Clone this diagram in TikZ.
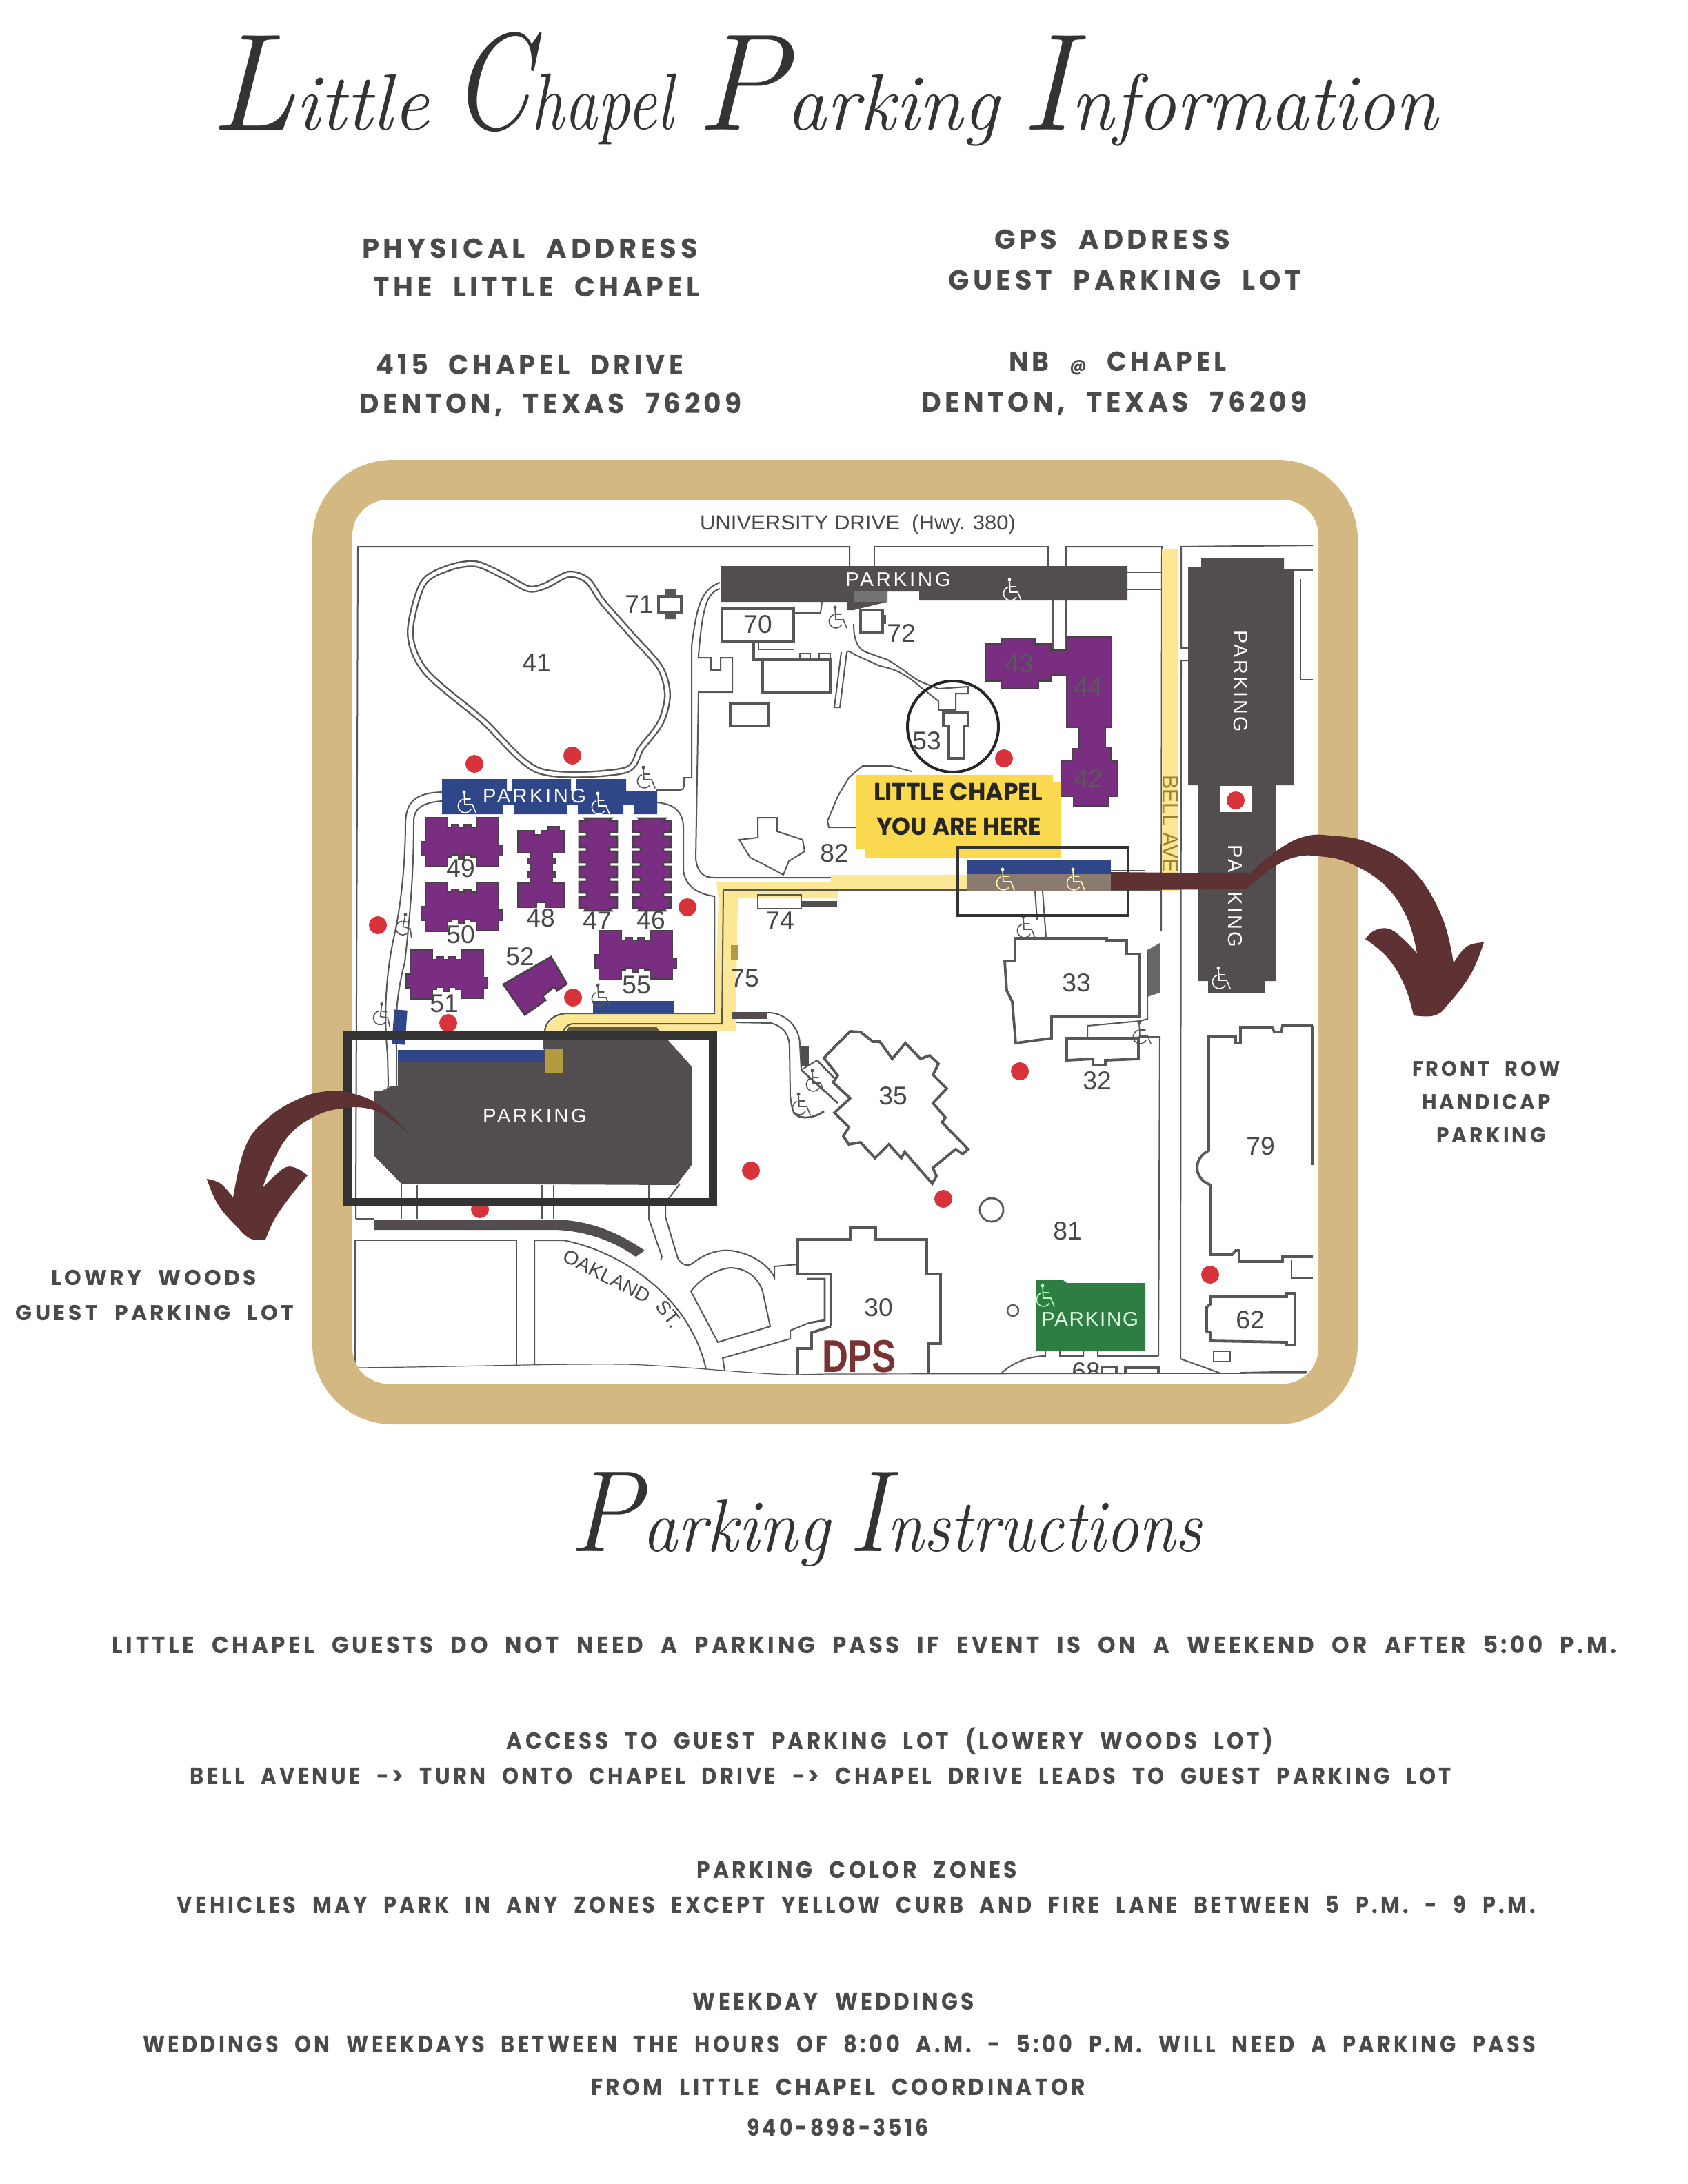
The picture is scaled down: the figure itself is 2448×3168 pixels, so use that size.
\documentclass[tikz,border=0pt]{standalone}
\usepackage{fontspec}
\usepackage{graphicx}
\setsansfont{Liberation Sans}
\newfontfamily\lab{Poppins}[LetterSpace=14,WordSpace=2.2]
\newfontfamily\labb{Poppins}[LetterSpace=0]
\newdimen\pxu \pxu=0.25pt
\definecolor{goldf}{HTML}{D3B981}
\definecolor{brownar}{HTML}{5E3232}
\definecolor{txtc}{HTML}{4A4A48}
\definecolor{titlec}{HTML}{333333}
\definecolor{parkd}{HTML}{524E50}
\definecolor{lined}{HTML}{575757}
\definecolor{bluep}{HTML}{2F4688}
\definecolor{purpf}{HTML}{7A2E82}
\definecolor{purpd}{HTML}{4A4048}
\definecolor{redd}{HTML}{D8323A}
\definecolor{yelpale}{HTML}{FCE794}
\definecolor{yelbox}{HTML}{FBD94E}
\definecolor{olive}{HTML}{B39B3F}
\definecolor{greenp}{HTML}{2E7D42}
\definecolor{taupe}{HTML}{8A7A70}
\tikzset{
 rd/.style={draw=lined,line width=.5pt},
 bl/.style={draw=lined,line width=.95pt,line join=miter},
 purp/.style={fill=purpf,draw=purpd,line width=.7pt},
 pk/.style={fill=parkd},
 bluef/.style={fill=bluep},
 dot/.style={fill=redd},
 numl/.style={font=\sffamily\fontsize{9.3}{9.3}\selectfont,text=black!72,inner sep=0pt},
 wlab/.style={font=\sffamily\fontsize{7.2}{7.2}\selectfont,text=white,inner sep=0pt,anchor=base},
 oakl/.style={font=\sffamily\fontsize{7}{7}\selectfont,text=black!72,inner sep=0pt,anchor=base},
 addr/.style={font=\lab\bfseries\fontsize{10}{10}\selectfont,text=txtc,inner sep=0pt,anchor=base},
 side/.style={font=\lab\bfseries\fontsize{7.8}{7.8}\selectfont,text=txtc,inner sep=0pt,anchor=base},
 instr/.style={font=\lab\bfseries\fontsize{8.6}{8.6}\selectfont,text=txtc,inner sep=0pt,anchor=base},
 ttl/.style={font=\itshape,text=titlec,inner sep=0pt,anchor=base},
 frameb/.style={draw=black!80,line join=miter}
}
% name is given explicitly; left, right and baseline are in pixels
\newcommand\fitn[6]{\node[#1] (#2) at ({(#3+#4)/2},#5) {\resizebox{\dimexpr #4\pxu-#3\pxu\relax}{\height}{#6}};}
\newcommand\nm[3]{\node[numl] (b#3) at (#1,#2) {#3};}
\newcommand\reddot[2]{\fill[dot] (#1,#2) circle [radius=13];}
\newcommand\bigc[1]{{\fontsize{50}{50}\selectfont #1}}
\newcommand\smt[1]{{\fontsize{29}{29}\selectfont #1}}
\newcommand\bigd[1]{{\fontsize{42}{42}\selectfont #1}}
\newcommand\smd[1]{{\fontsize{27}{27}\selectfont #1}}
\newcommand\hcap[4][0]{\begin{scope}[shift={(#2,#3)},rotate=#1]
 \draw[#4,line width=.4pt,line cap=round] (-4,-15) -- (-3,3) -- (8,3) -- (13,15) (-4,-5) -- (5,-5);
 \fill[#4] (-4,-15) circle [radius=2.5];
 \draw[#4,line width=.4pt] (6,10) arc [start angle=30,end angle=250,radius=10];
 \end{scope}}
\newcommand\hbldg[2]{\draw[purp,shift={(#1,#2)}] (6,0)--(38,0)--(38,14)--(44,14)--(44,10)--(54,10)--(54,14)--(62,14)--(62,10)--(72,10)--(72,14)--(80,14)--(80,0)--(112,0)--(112,40)--(118,40)--(118,55)--(112,55)--(112,70)--(80,70)--(80,57)--(72,57)--(72,54)--(62,54)--(62,60)--(54,60)--(54,54)--(44,54)--(44,57)--(38,57)--(38,71)--(6,71)--(6,55)--(0,55)--(0,35)--(6,35)--cycle;}
\newcommand\combb[2]{\draw[purp,shift={(#1,#2)}] (8,0) -- (47,0) \foreach \k in {0,...,5} {-- (44,{4+22*\k}) -- (55,{4+22*\k}) -- (55,{20+22*\k}) -- (44,{20+22*\k})} -- (47,134) -- (8,134) \foreach \k in {5,...,0} {-- (11,{20+22*\k}) -- (0,{20+22*\k}) -- (0,{4+22*\k}) -- (11,{4+22*\k})} -- cycle;}
\begin{document}
\begin{tikzpicture}[x=0.25pt,y=-0.25pt]
\useasboundingbox (0,0) rectangle (2448,3168);
\fill[white] (0,0) rectangle (2448,3168);
% frame
\fill[goldf,rounded corners=29pt] (453,667) rectangle (1969,2066);
\fill[white,rounded corners=13pt] (511,725) rectangle (1912,2007);
\begin{scope}
\clip[rounded corners=13pt] (511,725) rectangle (1912,2007);
\draw[rd,line width=.6pt] (555,725) -- (1890,725);
% outer grid lines
\draw[rd] (516,1768) -- (519,793) -- (1232,793) -- (1232,821);
\draw[rd] (1268,821) -- (1268,793) -- (1520,793) -- (1520,821);
\draw[rd] (1546,821) -- (1546,793) -- (1685,793) -- (1684,1350);
\draw[rd] (1682,1504) -- (1680,1967);
\draw[rd] (1634,830) -- (1685,830) (1634,855) -- (1685,855);
\draw[rd] (1723,940) -- (1713,940) -- (1713,793) -- (1904,791);
\draw[rd] (1723,958) -- (1713,958) -- (1712,1971) -- (1776,1994);
\draw[rd] (1876,827) -- (1904,827) (1886,840) -- (1886,986) -- (1904,986);
\draw[rd] (1527,871) -- (1527,943) (1546,871) -- (1546,943);
% lake
\draw[draw=lined,line width=.6pt,double=white,double distance=1.3pt] plot[smooth cycle,tension=.5] coordinates {(690,818) (730,835) (766,854) (790,850) (825,833) (852,842) (873,872) (915,920) (957,968) (968,1008) (958,1048) (930,1085) (904,1118) (782,1118) (700,1045) (618,975) (595,919) (613,847) (650,824)};
% roads north-west
\draw[rd] (1044,845) .. controls (1015,855) and (1010,885) .. (1003,937) -- (1003,1128) -- (992,1128) -- (992,1140) .. controls (990,1146) .. (980,1146) -- (952,1146);
\draw[rd] (1044,854) .. controls (1025,860) and (1019,880) .. (1013,950) -- (1013,954) -- (1031,954) -- (1031,972) -- (1045,972) -- (1045,954) -- (1062,954) -- (1062,1004) -- (1013,1004) -- (1009,1245) .. controls (1011,1265) and (1020,1273) .. (1035,1273) -- (1403,1273);
\draw[rd] (952,1164) .. controls (980,1166) and (991,1180) .. (991,1200) -- (991,1262) .. controls (993,1280) and (1005,1296) .. (1036,1300) -- (1036,1470) -- (825,1470) .. controls (805,1470) and (792,1480) .. (790,1495) -- (788,1522);
\draw[rd] (1049,1291) -- (1403,1291) (1049,1291) -- (1047,1485) -- (830,1485) .. controls (820,1487) and (815,1495) .. (813,1510);
\draw[rd] (1062,1483) -- (1118,1484) .. controls (1140,1490) and (1145,1505) .. (1145,1520) -- (1146,1589) .. controls (1148,1605) .. (1151,1614);
\draw[rd] (1062,1470) -- (1118,1469) .. controls (1145,1472) and (1160,1495) .. (1160,1515) -- (1162,1552) -- (1185,1538);
\draw[rd] (641,1149) .. controls (600,1150) and (590,1165) .. (588,1191) .. controls (588,1260) and (580,1320) .. (572,1356) .. controls (560,1410) and (556,1470) .. (562,1529) -- (563,1570) .. controls (563,1580) .. (555,1582);
\draw[rd] (641,1162) .. controls (610,1164) and (600,1175) .. (600,1191) .. controls (600,1240) and (598,1300) .. (587,1396) .. controls (578,1430) and (572,1470) .. (575,1520) -- (575,1575);
% route in yellow
\fill[yelpale] (1685,797) rectangle (1708,1292);
\fill[yelpale] (1205,1269) -- (1403,1269) -- (1403,1291) -- (1215,1291) -- (1215,1303) -- (1070,1303) -- (1067,1495) -- (817,1495) -- (817,1524) -- (792,1524) -- (792,1490) .. controls (800,1478) and (810,1470) .. (825,1470) -- (1037,1470) -- (1042,1303) -- (1039,1280) -- (1205,1280) -- cycle;
\draw[rd] (1049,1291) -- (1403,1291);
\draw[rd] (1036,1300) -- (1036,1470) -- (825,1470) .. controls (805,1470) and (792,1480) .. (790,1495);
\draw[rd] (1049,1291) -- (1047,1485) -- (830,1485) .. controls (820,1487) and (815,1495) .. (813,1510);
% 82, Texas
\draw[rd] (1241,1200) -- (1202,1200) -- (1200,1191) -- (1215,1155) -- (1231,1128) -- (1251,1111) -- (1292,1111) -- (1322,1119);
\draw[rd] (1099,1186) -- (1127,1186) -- (1127,1206) -- (1164,1218) -- (1167,1235) -- (1144,1249) -- (1136,1269) -- (1106,1253) -- (1088,1244) -- (1072,1218) -- (1099,1215) -- cycle;
% dark parking
\fill[pk] (1045,821) -- (1635,821) -- (1635,871) -- (1333,871) -- (1333,858) -- (1287,858) -- (1287,873) -- (1238,885) -- (1228,885) -- (1228,873) -- (1045,873) -- cycle;
\fill[black!55] (1238,858) rectangle (1287,873);
\fill[pk] (1742,810) -- (1862,810) -- (1862,826) -- (1876,826) -- (1876,1139) -- (1850,1139) -- (1850,1423) -- (1834,1423) -- (1834,1440) -- (1752,1440) -- (1752,1423) -- (1737,1423) -- (1737,1139) -- (1723,1139) -- (1723,823) -- (1742,823) -- cycle;
\fill[white] (1770,1140) rectangle (1816,1178);
\fill[pk] (582,1717) -- (543,1677) -- (543,1582) -- (560,1582) -- (566,1575) -- (577,1575) -- (577,1540) -- (789,1540) -- (789,1505) -- (817,1505) -- (825,1490) -- (952,1490) -- (968,1508) -- (1003,1547) -- (1003,1690) -- (981,1719) -- cycle;
\fill[olive!70!black!40!parkd] (825,1490) -- (952,1490) -- (962,1501) -- (817,1501) -- cycle;
\fill[olive] (791,1522) rectangle (816,1557);
\fill[bluep] (577,1523) rectangle (789,1540);
\fill[bluep] (860,1452) rectangle (977,1470);
\fill[bluep,rotate around={-4:(580,1490)}] (570,1465) rectangle (589,1515);
\fill[pk] (1062,1468) rectangle (1113,1478);
\fill[pk] (1162,1517) rectangle (1173,1547);
% band along Oakland
\fill[pk] (543,1769) -- (807,1769) .. controls (860,1771) and (900,1790) .. (935,1814) -- (922,1823) .. controls (890,1800) and (850,1786) .. (807,1784) -- (543,1784) -- cycle;
\draw[rd] (516,1768) -- (543,1768);
\draw[rd] (582,1717) -- (582,1768) (605,1719) -- (605,1768) (786,1719) -- (786,1768) (803,1719) -- (803,1768);
\draw[rd] (941,1719) -- (941,1768) -- (960,1823) -- (958,1828);
\draw[rd] (986,1717) -- (965,1745) -- (965,1765) -- (983,1825) .. controls (988,1835) and (998,1838) .. (1005,1832) .. controls (1020,1820) and (1040,1812) .. (1060,1814) .. controls (1090,1818) and (1115,1835) .. (1123,1853) -- (1123,1837) -- (1157,1834);
\draw[rd] (1002,1873) .. controls (1015,1855) and (1040,1840) .. (1060,1839) .. controls (1085,1840) and (1100,1855) .. (1106,1873) -- (1117,1924) -- (1041,1947) -- cycle;
\draw[rd] (1051,1988) -- (1048,1970) -- (1146,1942) -- (1146,1930) -- (1173,1919) -- (1195,1915);
\draw[rd] (515,1799) -- (749,1799) -- (749,1985) (515,1799) -- (515,1985);
\draw[rd] (775,1985) -- (775,1799) -- (817,1799) .. controls (900,1815) and (1000,1880) .. (1024,1986);
% green
\fill[greenp] (1503,1857) -- (1542,1857) -- (1547,1861) -- (1661,1861) -- (1661,1960) -- (1503,1960) -- cycle;
\draw[rd] (1452,1992) .. controls (1470,1975) and (1495,1967) .. (1516,1967) -- (1516,1960) (1537,1960) -- (1537,1967) -- (1571,1967) -- (1571,1960) (1592,1960) -- (1592,1967) -- (1680,1967);
% chapel-front parking
\fill[bluep] (1403,1247) rectangle (1611,1268);
\fill[taupe] (1403,1268) rectangle (1611,1292);
\draw[rd] (1501,1293) -- (1504,1334) (1512,1293) -- (1517,1360);
\draw[rd] (1611,1263) -- (1660,1263);
\draw[rd] (1611,1291) -- (1685,1291);
% blue lot
\fill[bluep] (641,1130) rectangle (735,1150) (743,1130) rectangle (828,1150) (836,1130) rectangle (908,1150) (908,1147) rectangle (953,1165);
\fill[bluep] (641,1148) rectangle (953,1168);
\fill[bluep] (641,1165) rectangle (729,1181) (746,1165) rectangle (822,1181) (838,1165) rectangle (904,1181) (919,1165) rectangle (953,1181);
% purple buildings
\hbldg{611}{1186}
\hbldg{611}{1280}
\hbldg{589}{1378}
\hbldg{863}{1350}
\draw[purp,shift={(751,1199)}] (0,6)--(24,6)--(24,12)--(34,12)--(34,6)--(44,6)--(44,0)--(60,0)--(60,6)--(67,6)--(67,38)--(50,38)--(50,46)--(54,46)--(54,54)--(50,54)--(50,66)--(54,66)--(54,74)--(50,74)--(50,82)--(67,82)--(67,117)--(40,117)--(40,110)--(27,110)--(27,117)--(0,117)--(0,82)--(18,82)--(18,74)--(14,74)--(14,66)--(18,66)--(18,54)--(14,54)--(14,46)--(18,46)--(18,38)--(0,38)--cycle;
\combb{840}{1187}
\combb{918}{1187}
\draw[purp] (799,1388)--(822,1427)--(808,1437)--(804,1431)--(787,1445)--(791,1451)--(761,1472)--(730,1428)--cycle;
\draw[purp] (1429,934)--(1452,934)--(1452,926)--(1501,926)--(1501,934)--(1524,934)--(1524,943)--(1547,943)--(1547,924)--(1612,924)--(1612,1055)--(1603,1055)--(1603,1084)--(1611,1084)--(1611,1103)--(1621,1103)--(1621,1155)--(1608,1155)--(1608,1169)--(1557,1169)--(1557,1155)--(1539,1155)--(1539,1103)--(1555,1103)--(1555,1086)--(1565,1086)--(1565,1055)--(1547,1055)--(1547,979)--(1524,979)--(1524,988)--(1506,988)--(1506,999)--(1452,999)--(1452,988)--(1429,988)--cycle;
% white buildings
\draw[bl] (955,865) rectangle (988,889);
\fill[lined] (964,855) rectangle (980,865) (964,889) rectangle (980,898);
\draw[bl] (1047,883) rectangle (1151,930);
\draw[bl] (1093,930) -- (1093,957) -- (1106,957) -- (1106,1004) -- (1204,1004) -- (1204,957) -- (1106,957);
\draw[rd] (1100,930) -- (1100,942) -- (1151,942);
\draw[bl,line width=.7pt] (1160,957) -- (1160,948) -- (1175,948) -- (1175,957) (1188,957) -- (1188,948) -- (1204,948) -- (1204,957);
\draw[bl] (1059,1021) rectangle (1115,1053);
\draw[rd] (1220,946) -- (1210,1026) -- (1218,1026) -- (1228,946);
\draw[rd] (1151,889) -- (1190,889) -- (1192,873);
\draw[bl] (1248,885) rectangle (1280,917);
\fill[lined] (1280,892) rectangle (1285,905);
\draw[rd] (1238,905) .. controls (1238,930) and (1245,942) .. (1256,946) -- (1287,957) .. controls (1310,970) and (1325,985) .. (1338,990) -- (1361,999) -- (1404,996) -- (1404,1006) -- (1386,1006) -- (1386,1030) -- (1361,1030) -- (1361,1017) -- (1333,995) .. controls (1310,975) and (1295,970) .. (1276,966) -- (1245,952) .. controls (1235,948) and (1230,942) .. (1228,946);
\draw[bl] (1368,1034) -- (1404,1034) -- (1404,1053) -- (1398,1053) -- (1398,1100) -- (1376,1100) -- (1376,1053) -- (1368,1053) -- cycle;
\draw[bl] (1472,1361)--(1605,1361)--(1605,1364)--(1634,1364)--(1634,1384)--(1653,1384)--(1653,1474)--(1525,1474)--(1525,1506)--(1473,1513)--(1468,1453)--(1460,1437)--(1457,1394)--(1472,1394)--cycle;
\fill[black!60] (1664,1378) -- (1682,1368) -- (1682,1440) -- (1664,1446) -- cycle;
\draw[rd] (1664,1378) -- (1664,1478) -- (1654,1481) -- (1577,1488) -- (1577,1504);
\draw[bl] (1547,1506)--(1651,1506)--(1651,1536)--(1603,1538)--(1603,1545)--(1585,1545)--(1585,1536)--(1547,1538)--cycle;
\draw[rd] (1651,1504) -- (1682,1504);
\draw[bl] (1200,1529)--(1233,1496)--(1248,1497)--(1266,1511)--(1276,1511)--(1294,1536)--(1313,1513)--(1335,1536)--(1348,1531)--(1361,1543)--(1353,1559)--(1373,1579)--(1353,1600)--(1371,1621)--(1366,1628)--(1404,1667)--(1396,1674)--(1386,1667)--(1353,1694)--(1358,1706)--(1352,1717)--(1312,1671)--(1307,1680)--(1289,1660)--(1269,1680)--(1248,1657)--(1231,1660)--(1223,1648)--(1231,1635)--(1210,1614)--(1233,1593)--(1208,1570)--(1215,1560)--(1195,1535)--cycle;
\draw[rd,line width=.7pt] (1162,1552) -- (1215,1600) (1151,1614) .. controls (1160,1625) and (1180,1622) .. (1195,1612) (1185,1538) -- (1210,1564);
\draw[bl] (1205,1924)--(1205,1848)--(1157,1848)--(1157,1798)--(1233,1798)--(1233,1781)--(1270,1781)--(1270,1798)--(1344,1798)--(1344,1848)--(1364,1848)--(1364,1949)--(1346,1949)--(1346,1995);
\draw[bl] (1205,1924)--(1177,1933)--(1177,1956)--(1157,1956)--(1157,1995);
\draw[rd,line width=.7pt] (1170,1855)--(1196,1855)--(1196,1915)--(1173,1919);
\draw[bl,line width=.7pt] (1438,1755) circle [radius=17];
\draw[bl,line width=.6pt] (1469,1901) circle [radius=8];
\draw[bl] (1904,1488)--(1860,1488)--(1858,1497)--(1848,1497)--(1845,1490)--(1799,1490)--(1799,1513)--(1792,1513)--(1792,1504)--(1753,1504)--(1753,1669) .. controls (1730,1680) and (1730,1710) .. (1756,1719) --(1756,1820)--(1787,1820)--(1792,1814)--(1797,1814)--(1797,1830)--(1860,1830)--(1860,1823)--(1904,1823);
\draw[bl] (1903,1488) -- (1903,1690);
\draw[bl,line width=.6pt] (1873,1827)--(1873,1854)--(1904,1854);
\draw[bl] (1755,1881)--(1866,1881)--(1866,1876)--(1878,1876)--(1878,1951)--(1866,1951)--(1866,1947)--(1755,1945)--(1755,1933)--(1750,1931)--(1750,1896)--(1755,1892)--cycle;
\draw[bl,line width=.6pt] (1760,1960) rectangle (1784,1975);
\draw[bl] (1632,1984) rectangle (1680,1998) (1598,1983) rectangle (1619,1998);
\draw[bl] (1798,1992) -- (1895,1990);
% red dots
\reddot{688}{1108} \reddot{830}{1096} \reddot{997}{1316} \reddot{548}{1342}
\reddot{1456}{1100} \reddot{831}{1447} \reddot{650}{1484} \reddot{696}{1754}
\reddot{1089}{1698} \reddot{1479}{1554} \reddot{1368}{1739} \reddot{1755}{1849}
\reddot{1792}{1161}
% yellow box
\fill[yelbox] (1241,1124) -- (1527,1124) -- (1527,1135) -- (1539,1135) -- (1539,1244) -- (1254,1244) -- (1254,1231) -- (1241,1231) -- cycle;
% wheelchair signs
\hcap{677}{1164}{white}
\hcap{871}{1166}{white}
\hcap{937}{1128}{lined}
\hcap{1468}{856}{white}
\hcap{1215}{896}{lined}
\hcap{1771}{1419}{white}
\hcap{1488}{1345}{lined}
\hcap{1458}{1276}{yellow!40!white}
\hcap{1560}{1276}{yellow!40!white}
\hcap{871}{1444}{lined}
\hcap[-15]{588}{1342}{lined}
\hcap[-10]{555}{1472}{lined}
\hcap{1182}{1568}{lined}
\hcap{1162}{1602}{lined}
\hcap{1656}{1499}{lined}
\hcap{1516}{1880}{green!30!white}
% numbers
\nm{927}{877}{71} \nm{778}{962}{41} \nm{1099}{906}{70} \nm{1307}{919}{72}
\nm{668}{1260}{49} \nm{668}{1356}{50} \nm{644}{1456}{51} \nm{754}{1388}{52}
\nm{923}{1429}{55} \nm{784}{1332}{48} \nm{866}{1336}{47} \nm{944}{1335}{46}
\nm{1131}{1336}{74} \nm{1080}{1419}{75} \nm{1210}{1238}{82} \nm{1344}{1075}{53}
\nm{1561}{1426}{33} \nm{1591}{1568}{32} \nm{1295}{1590}{35} \nm{1548}{1786}{81}
\nm{1274}{1897}{30} \nm{1828}{1663}{79} \nm{1813}{1915}{62} \nm{1575}{1990}{68}
\node[numl,text=black!65] (b43) at (1478,963) {43};
\node[numl,text=black!65] (b44) at (1578,997) {44};
\node[numl,text=black!65] (b42) at (1578,1129) {42};
\fill[olive] (1060,1371) rectangle (1071,1392);
\draw[bl,line width=.6pt] (1099,1298) rectangle (1162,1318);
\fill[pk] (1162,1307) rectangle (1214,1316);
% bottom edge of the scan
\fill[white] (519,1984) .. controls (700,1982) and (800,1978) .. (909,1979) .. controls (1000,1982) and (1100,1994) .. (1154,1994) -- (1200,1993) -- (1894,1992) -- (1920,1992) -- (1920,2010) -- (505,2010) -- (505,1984) -- cycle;
\draw[rd,line width=.3pt] (519,1984) .. controls (700,1982) and (800,1978) .. (909,1979) .. controls (1000,1982) and (1100,1994) .. (1154,1994) -- (1200,1993) -- (1894,1992);
% map text
\fitn{font=\sffamily\fontsize{7.4}{7.4}\selectfont,text=black!72,inner sep=0pt,anchor=base}{univ}{1015}{1473}{768}{UNIVERSITY DRIVE\ \ (Hwy. 380)}
\fitn{wlab}{pk1}{1226}{1379}{850}{\addfontfeature{LetterSpace=12}PARKING}
\fitn{wlab}{pk2}{700}{850}{1164}{\addfontfeature{LetterSpace=12}PARKING}
\fitn{wlab}{pk3}{700}{851}{1628}{\addfontfeature{LetterSpace=12}PARKING}
\fitn{wlab,text=green!10!white}{pk4}{1510}{1651}{1923}{\addfontfeature{LetterSpace=6}PARKING}
\node[wlab,rotate=-90] (pk5) at (1789,988) {\resizebox{148\pxu}{\height}{\addfontfeature{LetterSpace=12}PARKING}};
\node[wlab,rotate=-90] (pk6) at (1781,1300) {\resizebox{149\pxu}{\height}{\addfontfeature{LetterSpace=12}PARKING}};
\node[wlab,rotate=-90,text=olive!85!black,font=\sffamily\fontsize{8}{8}\selectfont] (bell) at (1686,1195) {\resizebox{141\pxu}{\height}{BELL AVE}};
\node[oakl,rotate=-27] (oak1) at (876,1860) {\resizebox{138\pxu}{\height}{OAKLAND}};
\node[oakl,rotate=-52] (oak2) at (962,1912) {\resizebox{42\pxu}{\height}{ST.}};
\fitn{font=\sffamily\bfseries\fontsize{16.6}{16.6}\selectfont,text=red!35!black!80,inner sep=0pt,anchor=base}{dps}{1192}{1300}{1990}{DPS}
\fitn{font=\labb\bfseries\fontsize{9}{9}\selectfont,text=black!85,inner sep=0pt,anchor=base}{lc1}{1267}{1512}{1161}{LITTLE CHAPEL}
\fitn{font=\labb\bfseries\fontsize{9}{9}\selectfont,text=black!85,inner sep=0pt,anchor=base}{lc2}{1271}{1510}{1211}{YOU ARE HERE}
\end{scope}
% chapel circle and selection frames
\draw[line width=1pt,black!85] (1382,1054) circle [radius=66];
\draw[frameb,line width=1.1pt] (1389,1229) rectangle (1636,1328);
\draw[frameb,line width=3.2pt] (503.5,1501.5) rectangle (1034,1744);
% brown arrows
\fill[brownar] (1611,1265) -- (1813,1267) -- plot[smooth,tension=.7] coordinates {(1813,1267) (1850,1235) (1890,1214) (1930,1212) (1987,1223) (2047,1260) (2090,1327) (2108,1397)} -- plot[smooth,tension=.7] coordinates {(2108,1397) (2127,1373) (2152,1367)} -- plot[smooth,tension=.7] coordinates {(2152,1367) (2133,1413) (2100,1457) (2080,1473) (2050,1473)} -- plot[smooth,tension=.7] coordinates {(2050,1473) (2037,1430) (2013,1390) (1980,1362)} -- plot[smooth,tension=.7] coordinates {(1980,1362) (1993,1350) (2013,1347) (2033,1360) (2055,1383)} -- plot[smooth,tension=.7] coordinates {(2055,1383) (2040,1330) (2007,1283) (1957,1252) (1913,1242) (1880,1243) (1847,1258) (1807,1290)} -- (1611,1291) -- cycle;
\fill[brownar] plot[smooth,tension=.7] coordinates {(595,1647) (553,1605) (514,1587) (474,1583) (431,1595) (387,1623) (356,1663) (338,1737)} -- plot[smooth,tension=.7] coordinates {(338,1737) (320,1717) (300,1710)} -- plot[smooth,tension=.7] coordinates {(300,1710) (316,1747) (344,1780) (364,1797) (385,1798)} -- plot[smooth,tension=.7] coordinates {(385,1798) (399,1767) (423,1733) (446,1705)} -- plot[smooth,tension=.7] coordinates {(446,1705) (431,1695) (415,1693) (399,1705) (381,1723)} -- plot[smooth,tension=.7] coordinates {(381,1723) (395,1687) (419,1647) (455,1620) (494,1608) (534,1608) (565,1622) (595,1647)} -- cycle;
% titles
\node[ttl] (title) at (1194.5,188) {\resizebox{318\pxu}{\height}{\bigc{L}\smt{ittle}}\hspace{33\pxu}\resizebox{321\pxu}{\height}{\bigc{C}\smt{hapel}}\hspace{33\pxu}\resizebox{439\pxu}{\height}{\bigc{P}\smt{arking}}\hspace{33\pxu}\resizebox{604\pxu}{\height}{\bigc{I}\smt{nformation}}};
\node[ttl] (title2) at (1284.5,2250) {\resizebox{377\pxu}{\height}{\bigd{P}\smd{arking}}\hspace{27\pxu}\resizebox{513\pxu}{\height}{\bigd{I}\smd{nstructions}}};
% addresses
\fitn{addr}{a1}{525}{1012}{374}{PHYSICAL ADDRESS}
\fitn{addr}{a2}{542}{1014}{430}{THE LITTLE CHAPEL}
\fitn{addr}{a3}{545}{991}{543}{415 CHAPEL DRIVE}
\fitn{addr}{a4}{522}{1076}{599}{DENTON, TEXAS 76209}
\fitn{addr}{a5}{1442}{1784}{361}{GPS ADDRESS}
\fitn{addr}{a6}{1375}{1887}{420}{GUEST PARKING LOT}
\fitn{addr}{a7}{1463}{1779}{538}{NB {\fontsize{6}{6}\selectfont @} CHAPEL}
\fitn{addr}{a8}{1336}{1896}{597}{DENTON, TEXAS 76209}
% side labels
\fitn{side}{s1}{2048}{2263}{1561}{FRONT ROW}
\fitn{side}{s2}{2062}{2249}{1609}{HANDICAP}
\fitn{side}{s3}{2083}{2242}{1657}{PARKING}
\fitn{side}{s4}{74}{372}{1864}{LOWRY WOODS}
\fitn{side}{s5}{23}{426}{1915}{GUEST PARKING LOT}
% instructions
\fitn{instr}{i1}{163}{2345}{2398}{LITTLE CHAPEL GUESTS DO NOT NEED A PARKING PASS IF EVENT IS ON A WEEKEND OR AFTER 5:00 P.M.}
\fitn{instr}{i2}{735}{1846}{2537}{ACCESS TO GUEST PARKING LOT (LOWERY WOODS LOT)}
\fitn{instr}{i3}{276}{2105}{2588}{BELL AVENUE -> TURN ONTO CHAPEL DRIVE -> CHAPEL DRIVE LEADS TO GUEST PARKING LOT}
\fitn{instr}{i4}{1010}{1475}{2724}{PARKING COLOR ZONES}
\fitn{instr}{i5}{257}{2227}{2775}{VEHICLES MAY PARK IN ANY ZONES EXCEPT YELLOW CURB AND FIRE LANE BETWEEN 5 P.M. - 9 P.M.}
\fitn{instr}{i6}{1005}{1413}{2915}{WEEKDAY WEDDINGS}
\fitn{instr}{i7}{207}{2227}{2977}{WEDDINGS ON WEEKDAYS BETWEEN THE HOURS OF 8:00 A.M. - 5:00 P.M. WILL NEED A PARKING PASS}
\fitn{instr}{i8}{857}{1574}{3039}{FROM LITTLE CHAPEL COORDINATOR}
\fitn{instr}{i9}{1083}{1347}{3098}{940-898-3516}
\end{tikzpicture}
\end{document}
